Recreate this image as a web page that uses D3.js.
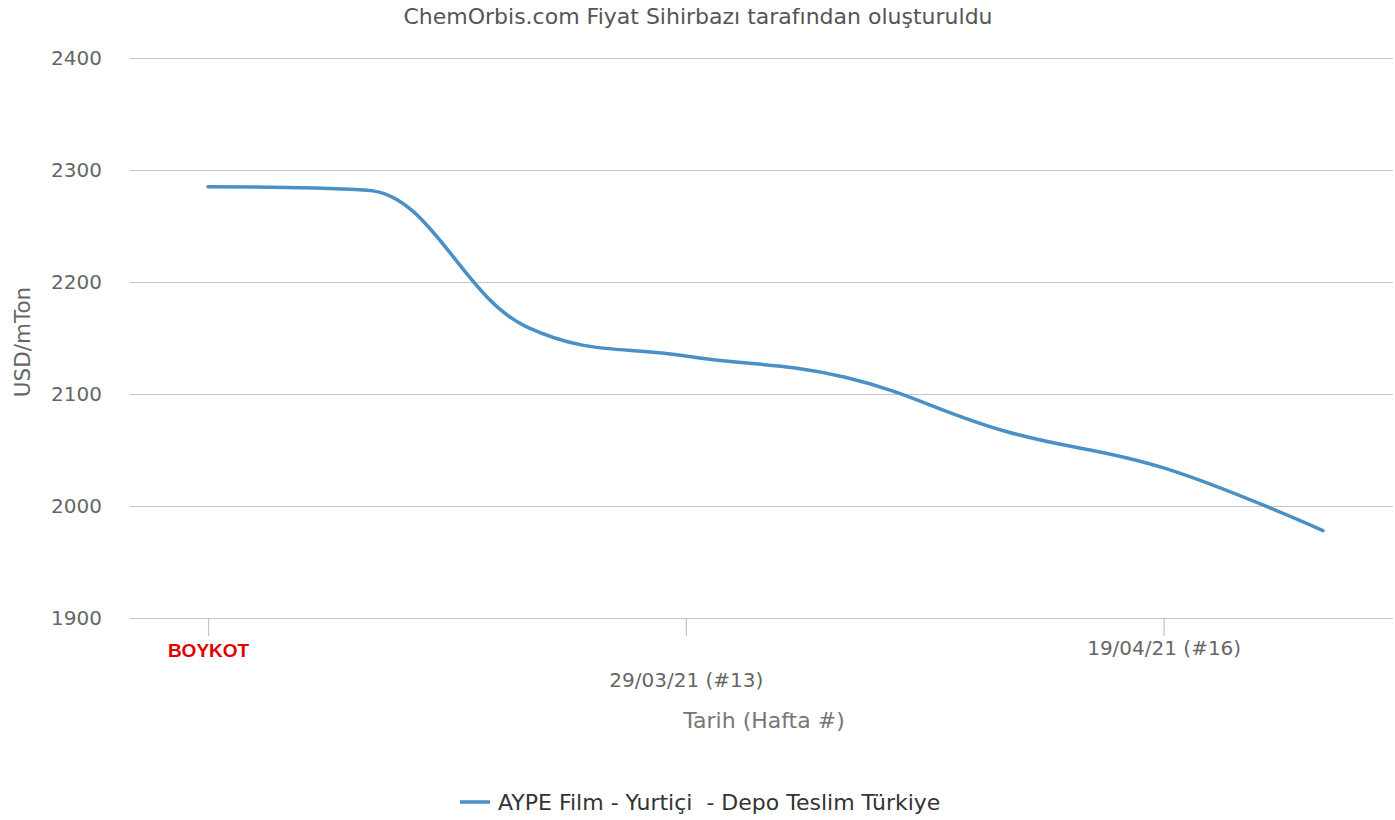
<!DOCTYPE html>
<html><head><meta charset="utf-8">
<script src="https://cdn.jsdelivr.net/npm/d3@7"></script>
<style>body{margin:0;background:#fff}svg{display:block}</style>
</head><body>
<svg id="c" width="1395" height="820"></svg>
<script>
const weeks = ["08/03/21 (#10)","15/03/21 (#11)","22/03/21 (#12)","29/03/21 (#13)","05/04/21 (#14)","12/04/21 (#15)","19/04/21 (#16)","26/04/21 (#17)"];
const values = [2285, 2282, 2160, 2134, 2115, 2067, 2034, 1978];
const yTicks = [1900, 2000, 2100, 2200, 2300, 2400];
const xTickIdx = [0, 3, 6];
const xTickLabels = ["BOYKOT", "29/03/21 (#13)", "19/04/21 (#16)"];
const seriesName = "AYPE Film - Yurtiçi  - Depo Teslim Türkiye";
const titleText = "ChemOrbis.com Fiyat Sihirbazı tarafından oluşturuldu";

const svg = d3.select("#c");
const F = "'DejaVu Sans', sans-serif";
const L = 130, R = 1393, T = 58, B = 618;
const x = d3.scaleLinear().domain([-0.49, 7.44]).range([L, R]);
const y = d3.scaleLinear().domain([1900, 2400]).range([B, T]);

svg.append("text").attr("x", 698).attr("y", 24).attr("text-anchor", "middle")
  .attr("font-family", F).attr("font-size", 22).attr("fill", "#555").text(titleText);

const gy = svg.append("g").attr("transform", `translate(${L},0)`)
  .call(d3.axisLeft(y).tickValues(yTicks).tickSize(-(R - L)).tickFormat(d3.format("d")).tickPadding(28));
gy.select(".domain").remove();
gy.selectAll(".tick line").attr("stroke", "#c4c4c4").attr("stroke-width", 1.2);
gy.selectAll(".tick text").attr("font-family", F).attr("font-size", 20).attr("fill", "#666");

const gx = svg.append("g").attr("transform", `translate(0,${B})`)
  .call(d3.axisBottom(x).tickValues(xTickIdx).tickSize(18).tickFormat((d, i) => xTickLabels[i]));
gx.select(".domain").remove();
gx.selectAll(".tick line").attr("stroke", "#c4c4c4").attr("stroke-width", 1.2);
gx.selectAll(".tick text").attr("font-family", F).attr("font-size", 20).attr("fill", "#666")
  .attr("y", (d, i) => i % 2 === 1 ? 62 : 30).attr("dy", "0.35em");
gx.selectAll(".tick text").filter((d, i) => i === 0)
  .attr("font-family", "'Liberation Sans', Arial, sans-serif").attr("font-weight", "bold")
  .attr("font-size", 19).attr("fill", "#e00000").attr("y", 32);

svg.append("text").attr("x", 764).attr("y", 728).attr("text-anchor", "middle")
  .attr("font-family", F).attr("font-size", 22).attr("fill", "#777").text("Tarih (Hafta #)");
svg.append("text").attr("transform", "translate(30,342) rotate(-90)").attr("text-anchor", "middle")
  .attr("font-family", F).attr("font-size", 21.5).attr("fill", "#666").text("USD/mTon");

// Highcharts-style spline through the scaled points
function splinePath(pts) {
  const s = 1.5, den = 2.5, n = pts.length;
  const rc = [];
  let d = `M${pts[0][0]},${pts[0][1]}`;
  for (let i = 1; i < n; i++) {
    const [px, py] = pts[i];
    let lx = px, ly = py;
    if (i < n - 1) {
      const [ax, ay] = pts[i - 1], [bx, by] = pts[i + 1];
      lx = (s * px + ax) / den; ly = (s * py + ay) / den;
      let rx = (s * px + bx) / den, ry = (s * py + by) / den;
      const corr = ((ry - ly) * (rx - px)) / (rx - lx) + py - ry;
      ly += corr; ry += corr;
      if (ly > ay && ly > py) { ly = Math.max(ay, py); ry = 2 * py - ly; }
      else if (ly < ay && ly < py) { ly = Math.min(ay, py); ry = 2 * py - ly; }
      if (ry > by && ry > py) { ry = Math.max(by, py); ly = 2 * py - ry; }
      else if (ry < by && ry < py) { ry = Math.min(by, py); ly = 2 * py - ry; }
      rc[i] = [rx, ry];
    }
    const prev = rc[i - 1] || pts[i - 1];
    d += `C${prev[0]},${prev[1]} ${lx},${ly} ${px},${py}`;
  }
  return d;
}
const pts = values.map((v, i) => [x(i), y(v)]);
svg.append("path").attr("d", splinePath(pts)).attr("fill", "none")
  .attr("stroke", "#4a8fc5").attr("stroke-width", 3.5).attr("stroke-linecap", "round").attr("stroke-linejoin", "round");

svg.append("line").attr("x1", 460).attr("x2", 490).attr("y1", 802).attr("y2", 802)
  .attr("stroke", "#4a8fc5").attr("stroke-width", 3.5);
svg.append("text").attr("x", 498).attr("y", 810).attr("font-family", F).attr("font-size", 22)
  .attr("fill", "#333").attr("xml:space", "preserve").style("white-space", "pre").text(seriesName);
</script>
</body></html>
